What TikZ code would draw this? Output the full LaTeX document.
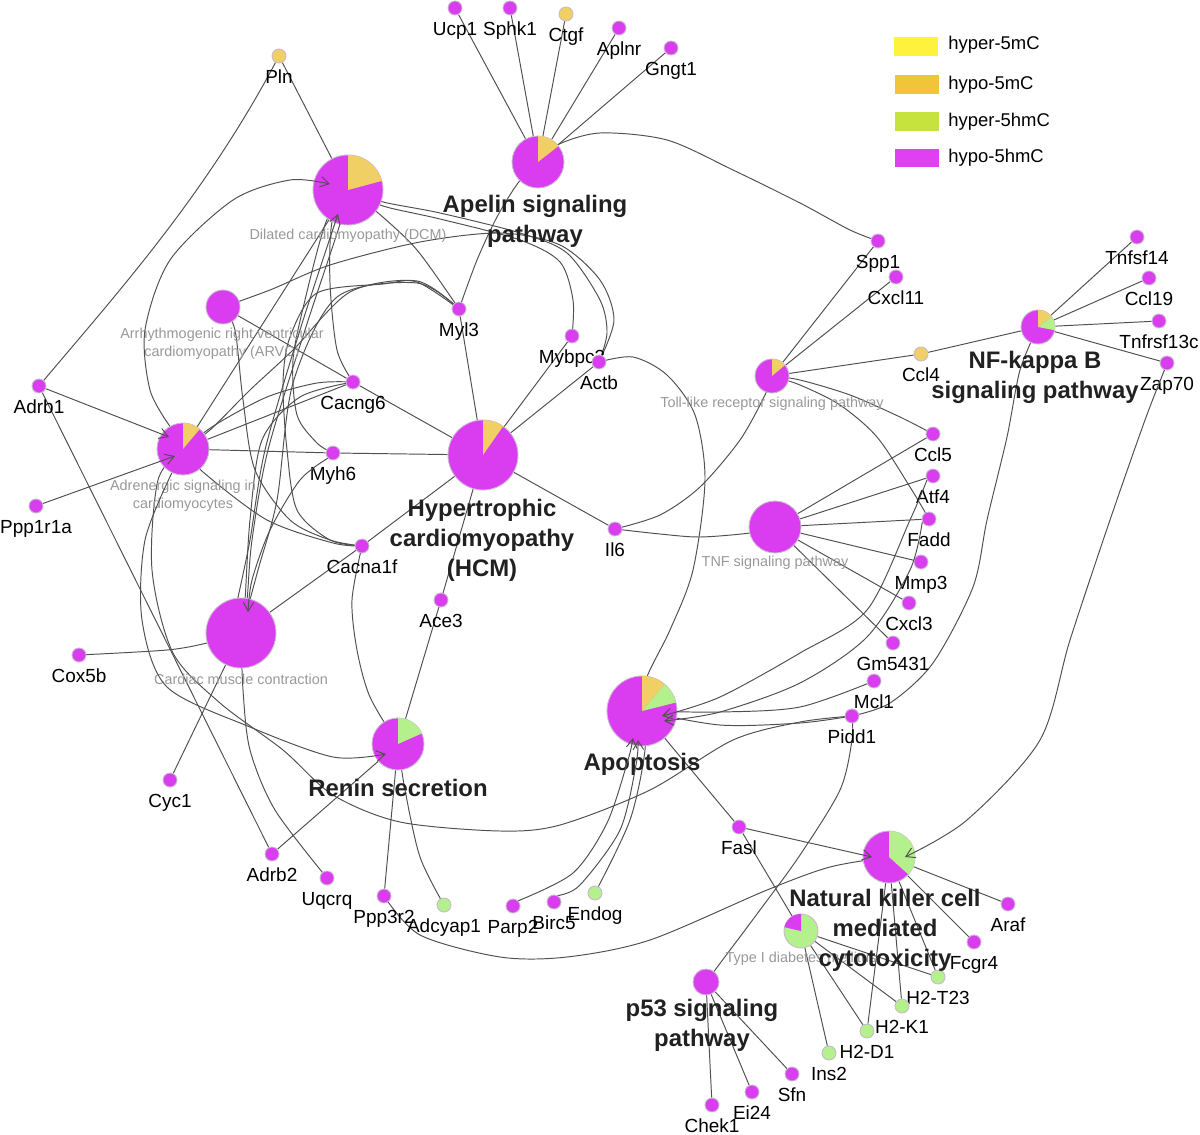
\documentclass[tikz,border=0pt]{standalone}
\usepackage{fontspec}
\setmainfont{Liberation Sans}
\usetikzlibrary{arrows.meta,backgrounds}

\definecolor{mag}{HTML}{DA3CF0}
\definecolor{pieY}{HTML}{F0D064}
\definecolor{pieG}{HTML}{B4F08C}
\definecolor{legY}{HTML}{FFF23C}
\definecolor{legO}{HTML}{F2C43A}
\definecolor{legG}{HTML}{C5E33C}
\definecolor{legM}{HTML}{DE40F2}
\definecolor{edgec}{HTML}{505050}
\definecolor{rim}{HTML}{C9B9CF}

% pie slice: node, radius in px, from angle, clockwise to angle, colour
\newcommand{\pieslc}[5]{%
  \fill[#5] (#1.center) -- ++({-(#3)}:#2) arc[start angle={-(#3)}, end angle={-(#4)}, radius=#2] -- cycle;}

\begin{document}
\begin{tikzpicture}[x=0.02cm, y=-0.02cm,
  ed/.style={draw=edgec, line width=0.55pt},
  tipd/.style={ed, -{Straight Barb[length=5pt, width=6pt]}},
  pw/.style={circle, fill=mag, draw=rim, line width=0.5pt, inner sep=0pt, minimum size=#1},
  gl/.style={font=\fontsize{10.8}{12}\selectfont, inner sep=0pt, text height=8pt, text depth=2pt, yshift=-0.11cm},
  gene/.style={circle, fill=mag, draw=rim, line width=0.5pt, inner sep=0pt,
    minimum size=0.28cm, label={[gl]below:#1}},
  pl/.style={font=\fontsize{8.2}{10.2}\selectfont, text=black!40, align=center, inner sep=0pt},
  bl/.style={font=\fontsize{13.6}{17}\selectfont\bfseries, text=black!87, align=center, inner sep=0pt},
  key/.style={minimum width=0.88cm, minimum height=0.38cm, inner sep=0pt},
  kt/.style={font=\fontsize{10.5}{12}\selectfont, anchor=west, inner sep=0pt}]
\useasboundingbox (0,0) rectangle (1200,1135);

% pathways
\node[pw=1.4cm] (dcm) at (348,190) {};
\node[pw=0.68cm] (arvc) at (223,307) {};
\node[pw=1.04cm] (ad) at (183,449) {};
\node[pw=1.4cm] (hcm) at (483,455) {};
\node[pw=1.4cm] (cmc) at (241,633) {};
\node[pw=1.04cm] (renin) at (398,744) {};
\node[pw=1.04cm] (apelin) at (538,162) {};
\node[pw=0.68cm] (tlr) at (772,376) {};
\node[pw=1.04cm] (tnf) at (775,527) {};
\node[pw=0.68cm] (nfkb) at (1038,327) {};
\node[pw=1.4cm] (apo) at (642,711) {};
\node[pw=1.04cm] (nk) at (889,857) {};
\node[pw=0.68cm, fill=pieG] (t1d) at (801,931) {};
\node[pw=0.52cm] (p53) at (706,982) {};

\pieslc{dcm}{35}{90}{15}{pieY}
\pieslc{ad}{26}{90}{50}{pieY}
\pieslc{hcm}{35}{90}{55}{pieY}
\pieslc{renin}{26}{90}{24}{pieG}
\pieslc{apelin}{26}{90}{38}{pieY}
\pieslc{tlr}{17}{90}{40}{pieY}
\pieslc{nfkb}{17}{90}{37}{pieY}
\pieslc{nfkb}{17}{37}{-11}{pieG}
\pieslc{apo}{35}{90}{50}{pieY}
\pieslc{apo}{35}{50}{14}{pieG}
\pieslc{nk}{26}{90}{-42}{pieG}
\pieslc{t1d}{17}{167}{90}{mag}

% genes
\node[gene=Pln, fill=pieY] (pln) at (279,56) {};
\node[gene=Ucp1] (ucp1) at (455,8) {};
\node[gene=Sphk1] (sphk1) at (510,8) {};
\node[gene=Ctgf, fill=pieY] (ctgf) at (566,14) {};
\node[gene=Aplnr] (aplnr) at (619,28) {};
\node[gene=Gngt1] (gngt1) at (671,48) {};
\node[gene=Spp1] (spp1) at (878,241) {};
\node[gene=Cxcl11] (cxcl11) at (896,277) {};
\node[gene=Ccl4, fill=pieY] (ccl4) at (921,354) {};
\node[gene=Tnfsf14] (tnfsf14) at (1137,237) {};
\node[gene=Ccl19] (ccl19) at (1149,278) {};
\node[gene=Tnfrsf13c] (tnfrsf13c) at (1159,321) {};
\node[gene=Zap70] (zap70) at (1167,363) {};
\node[gene=Adrb1] (adrb1) at (39,386) {};
\node[gene=Ppp1r1a] (ppp1r1a) at (36,506) {};
\node[gene=Cacng6] (cacng6) at (353,382) {};
\node[gene=Myh6] (myh6) at (333,453) {};
\node[gene=Myl3] (myl3) at (459,309) {};
\node[gene=Mybpc3] (mybpc3) at (572,336) {};
\node[gene=Actb] (actb) at (599,362) {};
\node[gene=Cacna1f] (cacna1f) at (362,546) {};
\node[gene=Ace3] (ace3) at (441,600) {};
\node[gene=Il6] (il6) at (615,529) {};
\node[gene=Ccl5] (ccl5) at (933,434) {};
\node[gene=Atf4] (atf4) at (933,476) {};
\node[gene=Fadd] (fadd) at (929,519) {};
\node[gene=Mmp3] (mmp3) at (921,562) {};
\node[gene=Cxcl3] (cxcl3) at (909,603) {};
\node[gene=Gm5431] (gm5431) at (893,643) {};
\node[gene=Mcl1] (mcl1) at (874,681) {};
\node[gene=Pidd1] (pidd1) at (852,716) {};
\node[gene=Cox5b] (cox5b) at (79,655) {};
\node[gene=Cyc1] (cyc1) at (170,780) {};
\node[gene=Adrb2] (adrb2) at (272,854) {};
\node[gene=Uqcrq] (uqcrq) at (327,878) {};
\node[gene=Ppp3r2] (ppp3r2) at (384,896) {};
\node[gene=Adcyap1, fill=pieG] (adcyap1) at (444,905) {};
\node[gene=Parp2] (parp2) at (513,906) {};
\node[gene=Birc5] (birc5) at (554,902) {};
\node[gene=Endog, fill=pieG] (endog) at (595,893) {};
\node[gene=Fasl] (fasl) at (739,827) {};
\node[gene=Araf] (araf) at (1008,904) {};
\node[gene=Fcgr4] (fcgr4) at (974,942) {};
\node[gene=H2-T23, fill=pieG] (h2t23) at (938,977) {};
\node[gene=H2-K1, fill=pieG] (h2k1) at (902,1006) {};
\node[gene=H2-D1, fill=pieG] (h2d1) at (867,1031) {};
\node[gene=Ins2, fill=pieG] (ins2) at (829,1053) {};
\node[gene=Chek1] (chek1) at (712,1105) {};
\node[gene=Ei24] (ei24) at (752,1092) {};
\node[gene=Sfn] (sfn) at (792,1074) {};

% pathway names
\node[pl] (dcmt) at (348,236) {Dilated cardiomyopathy (DCM)};
\node[pl] (arvct) at (222,344) {Arrhythmogenic right ventricular\\cardiomyopathy (ARVC)};
\node[pl] (adt) at (183,496) {Adrenergic signaling in\\cardiomyocytes};
\node[pl] (tlrt) at (772,404) {Toll-like receptor signaling pathway};
\node[pl] (tnft) at (775,563) {TNF signaling pathway};
\node[pl] (cmct) at (241,679) {Cardiac muscle contraction};
\node[pl] (t1dt) at (801,959) {Type I diabetes mellitus};

\node[bl] (apelint) at (535,221) {Apelin signaling\\pathway};
\node[bl] (hcmt) at (482,540) {Hypertrophic\\cardiomyopathy\\(HCM)};
\node[bl] (renint) at (398,788) {Renin secretion};
\node[bl] (nfkbt) at (1035,377) {NF-kappa B\\signaling pathway};
\node[bl] (apot) at (642,764) {Apoptosis};
\node[bl] (nkt) at (885,930) {Natural killer cell\\mediated\\cytotoxicity};
\node[bl] (p53t) at (702,1025) {p53 signaling\\pathway};

% legend
\node[key, fill=legY] (k1) at (916,47) {};
\node[kt] (k1t) at (948,45) {hyper-5mC};
\node[key, fill=legO] (k2) at (917,85) {};
\node[kt] (k2t) at (948,85) {hypo-5mC};
\node[key, fill=legG] (k3) at (917,122) {};
\node[kt] (k3t) at (948,122) {hyper-5hmC};
\node[key, fill=legM] (k4) at (917,158) {};
\node[kt] (k4t) at (948,158) {hypo-5hmC};

\begin{scope}[on background layer]
\fill[white] (0,0) rectangle (1200,1135);
% apelin
\foreach \g in {ucp1,sphk1,ctgf,aplnr,gngt1} \draw[ed] (apelin) -- (\g);
\draw[ed] plot[smooth] coordinates {(538,162) (557,145) (600,133) (667,140) (733,170) (800,203) (850,230) (878,241)};
\draw[ed] plot[smooth] coordinates {(538,162) (518,183) (497,217) (477,260) (459,309)};
% dilated cardiomyopathy
\draw[ed] (pln) -- (dcm);
\draw[ed] (pln) .. controls (205,195) and (120,290) .. (adrb1);
\draw[ed] (dcm) -- (ad);
\draw[ed] plot[smooth] coordinates {(348,190) (340,224) (305,330) (268,450) (252,540) (247,600) (241,633)};
\draw[ed] plot[smooth] coordinates {(348,190) (332,222) (330,283) (337,350) (353,382)};
\draw[ed] plot[smooth] coordinates {(348,190) (326,222) (305,300) (293,360) (297,415) (317,443) (333,453)};
\draw[ed] plot[smooth] coordinates {(348,190) (377,212) (417,250) (459,309)};
\draw[ed] plot[smooth] coordinates {(348,190) (383,202) (440,213) (520,233) (567,253) (600,300) (607,333) (599,362)};
\draw[ed] plot[smooth] coordinates {(348,190) (383,206) (440,219) (520,240) (560,262) (573,300) (572,336)};
% arrhythmogenic
\draw[ed] (arvc) -- (cacng6);
\draw[ed] plot[smooth] coordinates {(223,307) (270,290) (330,265) (420,242) (500,233) (560,245) (600,280) (614,320) (599,362)};
\draw[ed] plot[smooth] coordinates {(223,307) (235,330) (243,400) (255,470) (290,520) (330,540) (362,546)};
% adrenergic
\draw[ed] (adrb1) -- (adrb2);
\draw[ed] (ad) -- (cacng6);
\draw[ed] (ad) -- (myh6);
\draw[ed] plot[smooth] coordinates {(183,449) (215,425) (267,397) (317,383) (353,382)};
\draw[ed] plot[smooth] coordinates {(183,449) (210,430) (250,390) (293,350) (350,292) (417,281) (459,309)};
\draw[ed] plot[smooth] coordinates {(183,449) (203,472) (267,520) (333,543) (362,546)};
\draw[ed] plot[smooth] coordinates {(183,449) (158,480) (152,570) (173,653) (220,703) (283,750) (333,795) (400,822) (500,831) (560,825) (650,790) (733,740) (800,722) (852,716)};
% myl3 arcs
\draw[ed] plot[smooth] coordinates {(459,309) (417,283) (337,297) (293,383) (277,500) (258,570) (241,633)};
\draw[ed] plot[smooth] coordinates {(459,309) (417,282) (383,284) (317,293) (290,337) (283,383) (287,450) (297,510) (330,540) (362,546)};
% hypertrophic cardiomyopathy
\foreach \g in {myl3,mybpc3,actb,cacng6,myh6,cacna1f,ace3,il6} \draw[ed] (hcm) -- (\g);
% cardiac muscle contraction
\draw[ed] plot[smooth] coordinates {(79,655) (167,650) (207,643) (241,633)};
\draw[ed] (cmc) -- (cyc1);
\draw[ed] (cmc) -- (cacna1f);
\draw[ed] plot[smooth] coordinates {(241,633) (243,690) (250,750) (275,810) (327,878)};
\draw[ed] plot[smooth] coordinates {(353,382) (300,397) (262,440) (250,520) (245,600) (241,633)};
% renin secretion
\draw[ed] (renin) -- (ace3);
\draw[ed] (renin) -- (adrb2);
\draw[ed] (renin) -- (ppp3r2);
\draw[ed] plot[smooth] coordinates {(362,546) (352,600) (357,650) (370,697) (398,744)};
\draw[ed] plot[smooth] coordinates {(398,744) (405,790) (420,857) (444,905)};
% apoptosis
\draw[ed] plot[smooth] coordinates {(599,362) (633,357) (667,375) (695,415) (705,480) (693,570) (670,630) (647,677) (642,711)};
\draw[ed] (apo) -- (fasl);
\draw[ed] plot[smooth] coordinates {(642,711) (645,750) (630,820) (595,893)};
\draw[ed] plot[smooth] coordinates {(642,711) (720,712) (800,707) (874,681)};
\draw[ed] plot[smooth] coordinates {(642,711) (720,725) (800,723) (852,716)};
% toll-like and TNF
\draw[ed] (tlr) -- (spp1);
\draw[ed] (tlr) -- (cxcl11);
\draw[ed] (tlr) -- (ccl4);
\draw[ed] plot[smooth] coordinates {(615,529) (660,515) (700,487) (740,440) (765,395) (772,376)};
\draw[ed] plot[smooth] coordinates {(615,529) (660,534) (700,537) (750,533) (775,527)};
\draw[ed] plot[smooth] coordinates {(772,376) (800,380) (850,395) (900,417) (933,434)};
\draw[ed] plot[smooth] coordinates {(772,376) (800,385) (840,405) (877,437) (910,487) (929,519)};
\foreach \g in {ccl5,atf4,fadd,mmp3,cxcl3,gm5431} \draw[ed] (tnf) -- (\g);
% NF-kappa B
\foreach \g in {ccl4,tnfsf14,ccl19,tnfrsf13c,zap70} \draw[ed] (nfkb) -- (\g);
\draw[ed] plot[smooth] coordinates {(1038,327) (1020,370) (1007,437) (987,520) (973,587) (933,663) (890,703) (852,716)};
% natural killer, diabetes, p53
\foreach \g in {araf,fcgr4,h2t23,h2k1,h2d1} \draw[ed] (nk) -- (\g);
\foreach \g in {fasl,ins2,h2d1,h2k1,h2t23} \draw[ed] (t1d) -- (\g);
\foreach \g in {chek1,ei24,sfn} \draw[ed] (p53) -- (\g);
\draw[ed] plot[smooth] coordinates {(852,716) (852,740) (840,790) (800,855) (760,910) (706,982)};
\draw[ed] plot[smooth] coordinates {(384,896) (420,935) (500,957) (567,957) (650,940) (767,890) (830,867) (889,857)};
\end{scope}

% edges with arrow ends
\draw[tipd] plot[smooth] coordinates {(ad.120) (150,390) (145,330) (170,260) (233,200) (290,180) (330,184)};
\draw[tipd] plot[smooth] coordinates {(ad.245) (145,540) (142,620) (167,687) (250,727) (333,757) (386,754)};
\draw[tipd] plot[smooth] coordinates {(myh6.225) (300,480) (270,530) (252,580) (248,612)};
\draw[tipd] plot[smooth] coordinates {(cmc.95) (250,540) (265,450) (300,330) (338,214)};
\draw[tipd] (adrb1) -- (169,437);
\draw[tipd] (ppp1r1a) -- (175,456);
\draw[tipd] plot[smooth] coordinates {(atf4.215) (910,520) (867,610) (800,653) (720,697) (662,716)};
\draw[tipd] plot[smooth] coordinates {(fadd.205) (910,570) (867,637) (800,683) (720,712) (664,721)};
\draw[tipd] (fasl) -- (872,857);
\draw[tipd] plot[smooth] coordinates {(zap70.250) (1145,420) (1110,520) (1070,640) (1040,740) (967,820) (905,857)};
\draw[tipd] plot[smooth] coordinates {(parp2.45) (573,873) (607,823) (628,760) (633,738)};
\draw[tipd] plot[smooth] coordinates {(birc5.60) (580,885) (620,830) (636,765) (638,740)};
\end{tikzpicture}
\end{document}
